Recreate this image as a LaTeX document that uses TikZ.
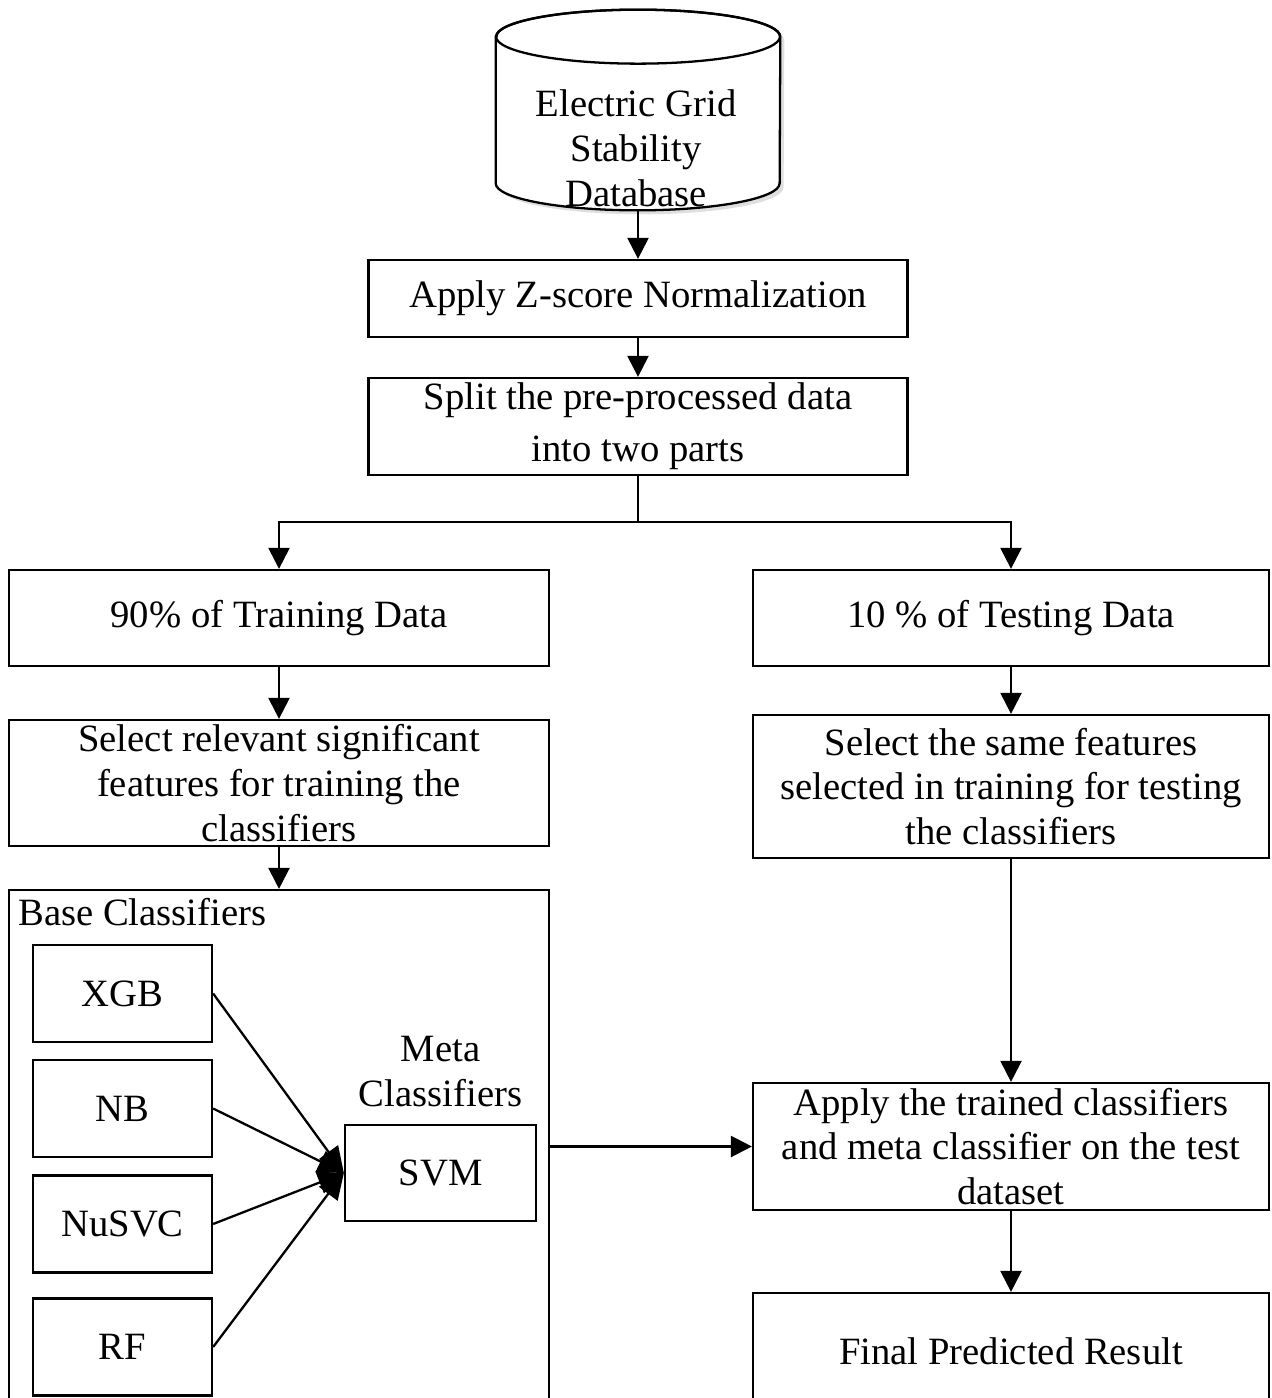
\documentclass[tikz,border=0pt]{standalone}
\usepackage{fontspec}
\setmainfont{Liberation Serif}
\usetikzlibrary{arrows.meta,shadows}

\begin{document}
\begin{tikzpicture}[x=0.02cm, y=-0.02cm,
        box/.style={draw, line width=1.3pt, inner sep=0pt, align=center, font=\fontsize{22}{25.5}\selectfont},
        lbl/.style={inner sep=0pt, align=center, font=\fontsize{22}{25.5}\selectfont},
        arr/.style={line width=1.3pt, -{Triangle[width=0.42cm,length=0.42cm]}},
        metaarr/.style={line width=1.3pt, -{Triangle[width=0.46cm,length=0.52cm]}}]
        \useasboundingbox (0,0) rectangle (1271,1398);
        \clip (0,0) rectangle (1271,1398);

        % Database
        \node[minimum width=5.68cm, minimum height=4cm, inner sep=0pt] (db) at (638,110) {};
        \filldraw[fill=white, line width=1.3pt, drop shadow={opacity=0.25, shadow xshift=0.08cm, shadow yshift=-0.08cm}]
            ([yshift=-0.54cm]db.north west) -- ([yshift=0.54cm]db.south west)
            arc[start angle=180, end angle=360, x radius=2.84cm, y radius=0.54cm]
            -- ([yshift=-0.54cm]db.north east)
            arc[start angle=0, end angle=180, x radius=2.84cm, y radius=0.54cm] -- cycle;
        \draw[line width=1.3pt] ([yshift=-0.54cm]db.north) ellipse[x radius=2.84cm, y radius=0.54cm];
        \node[lbl] (dbtext) at (636,148) {Electric Grid\\Stability\\Database};

        % Pre-processing
        \node[box, minimum width=10.78cm, minimum height=1.54cm] (znorm) at (638,298.5) {Apply Z-score Normalization};
        \node[box, minimum width=10.78cm, minimum height=1.94cm] (split) at (638,426.5) {Split the pre-processed data\\[4pt]into two parts};
        \draw[arr] (db.south) -- (znorm.north);
        \draw[arr] (znorm.south) -- (split.north);

        % Training and testing branches
        \node[box, minimum width=10.8cm, minimum height=1.92cm] (train) at (279,618) {90\% of Training Data};
        \node[box, minimum width=10.32cm, minimum height=1.92cm] (test) at (1011,618) {10 \% of Testing Data};
        \coordinate (fork) at (638,522);
        \draw[line width=1.3pt] (split.south) -- (split.south |- fork);
        \draw[arr] (split.south |- fork) -| (train.north);
        \draw[arr] (split.south |- fork) -| (test.north);

        \node[box, minimum width=10.8cm, minimum height=2.52cm] (selL) at (279,783) {Select relevant significant\\features for training the\\classifiers};
        \node[box, minimum width=10.32cm, minimum height=2.86cm] (selR) at (1011,786.5) {Select the same features\\selected in training for testing\\the classifiers};
        \draw[arr] (train.south) -- (selL.north);
        \draw[arr] (test.south) -- (selR.north);

        % Base and meta classifiers
        \node[box, minimum width=10.8cm, minimum height=10.6cm] (base) at (279,1155) {};
        \node[lbl, anchor=north west] (baselbl) at ([xshift=0.2cm, yshift=-0.18cm]base.north west) {Base Classifiers};
        \draw[arr] (selL.south) -- (base.north);

        \node[box, minimum width=3.58cm, minimum height=1.94cm] (xgb) at (122.5,993.5) {XGB};
        \node[box, minimum width=3.58cm, minimum height=1.94cm] (nb) at (122.5,1108.5) {NB};
        \node[box, minimum width=3.58cm, minimum height=1.94cm] (nusvc) at (122.5,1224) {NuSVC};
        \node[box, minimum width=3.58cm, minimum height=1.94cm] (rf) at (122.5,1347) {RF};
        \node[box, minimum width=3.82cm, minimum height=1.92cm] (svm) at (440.5,1173) {SVM};
        \node[lbl, anchor=south] (metalbl) at ([yshift=0.34cm]svm.north) {Meta\\Classifiers};
        \foreach \b in {xgb, nb, nusvc, rf}
            \draw[metaarr] (\b.east) -- (svm.west);

        % Testing and result
        \node[box, minimum width=10.32cm, minimum height=2.54cm] (apply) at (1011,1146.5) {Apply the trained classifiers\\and meta classifier on the test\\dataset};
        \node[box, minimum width=10.32cm, minimum height=2.34cm] (final) at (1011,1351.5) {Final Predicted Result};
        \draw[arr] (selR.south) -- (apply.north);
        \draw[arr] (base.east |- apply.west) -- (apply.west);
        \draw[arr] (apply.south) -- (final.north);
    \end{tikzpicture}
\end{document}
